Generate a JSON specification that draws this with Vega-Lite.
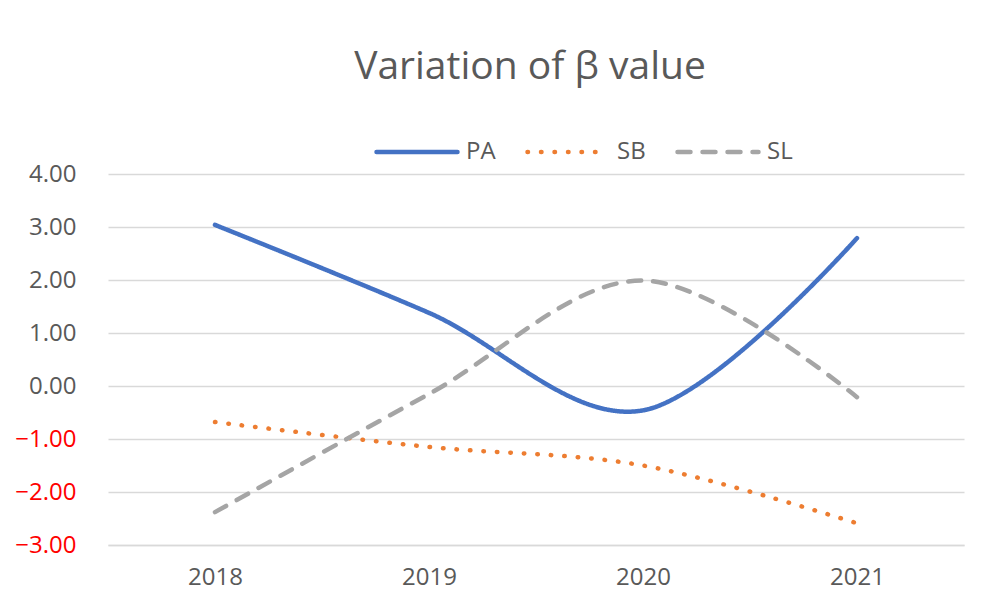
{
  "$schema": "https://vega.github.io/schema/vega-lite/v6.json",
  "autosize": "none",
  "width": 856,
  "height": 371,
  "padding": {"left": 108, "top": 174, "right": 28, "bottom": 68},
  "background": "white",
  "title": {
    "text": "Variation of β value",
    "font": "Open Sans",
    "fontSize": 39,
    "fontWeight": "normal",
    "color": "#595959",
    "anchor": "middle",
    "dx": -6,
    "offset": 22
  },
  "data": {
    "values": [
      {"year": "2018", "series": "PA", "value": 3.04},
      {"year": "2019", "series": "PA", "value": 1.38},
      {"year": "2020", "series": "PA", "value": -0.46},
      {"year": "2021", "series": "PA", "value": 2.79},
      {"year": "2018", "series": "SB", "value": -0.68},
      {"year": "2019", "series": "SB", "value": -1.15},
      {"year": "2020", "series": "SB", "value": -1.5},
      {"year": "2021", "series": "SB", "value": -2.59},
      {"year": "2018", "series": "SL", "value": -2.38},
      {"year": "2019", "series": "SL", "value": -0.15},
      {"year": "2020", "series": "SL", "value": 1.99},
      {"year": "2021", "series": "SL", "value": -0.21}
    ]
  },
  "mark": {"type": "line", "interpolate": "cardinal", "strokeWidth": 4.5, "strokeCap": "round"},
  "encoding": {
    "x": {
      "field": "year",
      "type": "ordinal",
      "scale": {"type": "point", "padding": 0.5},
      "axis": {
        "title": null,
        "labelAngle": 0,
        "labelFont": "Open Sans",
        "labelFontSize": 24,
        "labelColor": "#595959",
        "labelPadding": 20,
        "ticks": false,
        "grid": false,
        "domainColor": "#D9D9D9",
        "domainWidth": 1.5
      }
    },
    "y": {
      "field": "value",
      "type": "quantitative",
      "scale": {"domain": [-3, 4], "nice": false, "zero": false},
      "axis": {
        "title": null,
        "values": [-3, -2, -1, 0, 1, 2, 3, 4],
        "format": ".2f",
        "labelFont": "Open Sans",
        "labelFontSize": 24,
        "labelColor": {"condition": {"test": "datum.value < 0", "value": "#FF0000"}, "value": "#595959"},
        "labelPadding": 32,
        "ticks": false,
        "domain": false,
        "gridColor": "#D9D9D9",
        "gridWidth": 1.5
      }
    },
    "color": {
      "field": "series",
      "type": "nominal",
      "scale": {"domain": ["PA", "SB", "SL"], "range": ["#4472C4", "#ED7D31", "#A5A5A5"]},
      "legend": {
        "title": null,
        "orient": "none",
        "direction": "horizontal",
        "legendX": 266,
        "legendY": -65,
        "symbolType": "stroke",
        "symbolSize": 6561,
        "symbolStrokeWidth": 4.5,
        "labelFont": "Open Sans",
        "labelFontSize": 24,
        "labelColor": "#595959",
        "labelOffset": 6,
        "columnPadding": 22,
        "encode": {"symbols": {"update": {"strokeCap": {"value": "round"}}}}
      }
    },
    "strokeDash": {
      "field": "series",
      "type": "nominal",
      "scale": {"domain": ["PA", "SB", "SL"], "range": [[1, 0], [0.5, 13], [13, 12]]},
      "legend": null
    }
  },
  "config": {"view": {"stroke": null}}
}
